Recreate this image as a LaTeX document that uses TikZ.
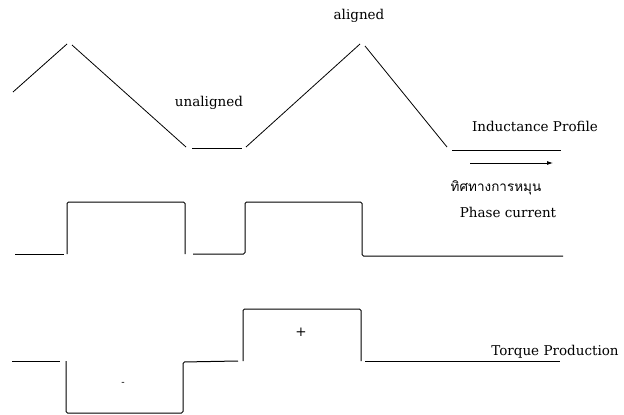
\documentclass[tikz,border=0pt]{standalone}
\usepackage{fontspec}
\setmainfont{DejaVu Serif}
\newfontfamily\thaifont[Script=Thai]{Loma}
\usetikzlibrary{arrows.meta}
\begin{document}
\begin{tikzpicture}[x=1pt,y=-1pt,
  wave/.style={line width=1pt,line join=round,rounded corners=1.5pt},
  prof/.style={line width=0.8pt},
  lbl/.style={inner sep=0pt,font=\fontsize{13.5}{15}\selectfont}]
\useasboundingbox (0,0) rectangle (624,415);
% inductance profile
\draw[prof] (13,92) -- (67,44);
\draw[prof] (72,45) -- (186,147);
\draw[prof] (192,148) -- (242,148);
\draw[prof] (246,147) -- (360,44);
\draw[prof] (365,46) -- (447,147);
\draw[prof] (452,150) -- (561,150);
\coordinate (arrS) at (470,163);
\coordinate (arrE) at (553,163);
\draw[prof,-{Latex[length=6pt,width=4pt]}] (arrS) -- (arrE);
% phase current
\draw[wave] (15,254) -- (64,254);
\draw[wave] (67,254) -- (67,202) -- (185,202) -- (185,254);
\draw[wave] (193,254) -- (245,254) -- (245,202) -- (362,202) -- (362,256) -- (563,256);
% torque production
\draw[wave] (12,361) -- (60,361);
\draw[wave] (66,361) -- (66,413) -- (183,413) -- (183,362) -- (238,361);
\draw[wave] (243,361) -- (243,309) -- (361,309) -- (361,361);
\draw[wave] (365,361) -- (560,361);
% labels
\node[lbl] (al) at (359,16) {aligned};
\node[lbl] (ual) at (209,103) {unaligned};
\node[lbl] (ip) at (535,126) {Inductance Profile};
\node[inner sep=0pt,font=\thaifont\fontsize{13.5}{16}\selectfont] (dir) at (496,188) {ทิศทางการหมุน};
\node[lbl] (pc) at (508,212) {Phase current};
\node[lbl] (tp) at (555,352) {Torque Production};
\node[lbl] (plus) at (301,332) {+};
\node[inner sep=0pt,font=\fontsize{10}{12}\selectfont] (minus) at (123,384) {-};
\end{tikzpicture}
\end{document}
